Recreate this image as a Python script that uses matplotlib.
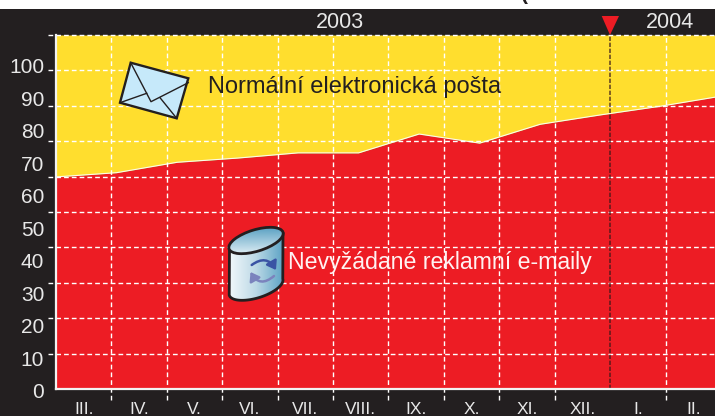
import numpy as np
import matplotlib
matplotlib.use('Agg')
import matplotlib.pyplot as plt
from matplotlib.patches import Polygon, Ellipse, PathPatch, FancyArrowPatch
from matplotlib.path import Path
from matplotlib.transforms import ScaledTranslation

plt.rcParams['font.family'] = 'Liberation Sans'

months = ['III.', 'IV.', 'V.', 'VI.', 'VII.', 'VIII.', 'IX.', 'X.', 'XI.', 'XII.', 'I.', 'II.']
spam = [65.3, 66.6, 69.8, 71.1, 72.7, 72.7, 78.5, 75.7, 81.5, 84.4, 87.1, 90.2]
y_labels = [0, 10, 20, 30, 40, 50, 60, 70, 80, 90, 100]

BLACK = '#231f20'
RED = '#ed1c24'
YELLOW = '#ffde2e'
LIGHT = '#e8e8e8'
DASH = (0, (3.4, 2.2))

W, H = 715, 416
fig = plt.figure(figsize=(W / 100, H / 100), dpi=100, facecolor='white')

# dark panel under everything, white strip stays on top
bg = fig.add_axes([0, 0, 1, 1 - 9 / H])
bg.set_facecolor(BLACK)
bg.set_xticks([])
bg.set_yticks([])
for s in bg.spines.values():
    s.set_visible(False)

ax = fig.add_axes([56 / W, (H - 389) / H, (W - 56) / W, (389 - 35) / H])
ax.patch.set_alpha(0)
x = np.arange(len(spam))
top = 109
ax.set_xlim(0, 10.89)
ax.set_ylim(0, top)
ax.fill_between(x, 0, spam, color=RED, lw=0, zorder=1)
ax.fill_between(x, spam, top, color=YELLOW, lw=0, zorder=1)
ax.plot(x, spam, color='white', lw=0.8, alpha=0.9, zorder=2)

# the grid does not sit on the printed scale, it has its own spacing
grid_x = np.arange(1, 12) * 55.4 / 60.5
grid_y = np.arange(1, 11) * 10.9
for g in grid_y:
    ax.plot([-8 / 60.5, 10.89], [g, g], color='white', lw=1, ls=DASH, clip_on=False, zorder=3)
for i, g in enumerate(grid_x):
    if i == 9:
        continue
    ax.plot([g, g], [-11.5 / 3.248, top], color='white', lw=1, ls=DASH, clip_on=False, zorder=3)
ax.plot([grid_x[9]] * 2, [0, top], color='#3a1a1a', lw=1.2, ls=(0, (2.6, 1.0)), alpha=0.75, zorder=4)

ax.set_yticks(y_labels)
ax.set_yticklabels(y_labels, color=LIGHT, fontsize=15)
ax.tick_params(axis='y', length=0, pad=8.5)
offset = ScaledTranslation(0, -1.2 / 72, fig.dpi_scale_trans)
for lab in ax.get_yticklabels():
    lab.set_transform(lab.get_transform() + offset)

ax.set_xticks(grid_x[0] * (np.arange(len(months)) + 0.5))
ax.set_xticklabels(months, color=LIGHT, fontsize=12.5)
ax.tick_params(axis='x', length=0, pad=9)

for s in ['top', 'right']:
    ax.spines[s].set_visible(False)
for s in ['left', 'bottom']:
    ax.spines[s].set_color('#f2f2f2')
    ax.spines[s].set_linewidth(1.6)
    ax.spines[s].set_zorder(5)

# overlay in pixel coordinates for icons and captions
ov = fig.add_axes([0, 0, 1, 1])
ov.set_xlim(0, W)
ov.set_ylim(H, 0)
ov.axis('off')
ov.patch.set_alpha(0)

ov.text(340, 22.5, '2003', color=LIGHT, fontsize=15.5, ha='center', va='center')
ov.text(670, 23, '2004', color=LIGHT, fontsize=15.5, ha='center', va='center')
ov.add_patch(Polygon([(601.7, 16), (619, 16), (610, 35)], color=RED, lw=0, zorder=6))
ov.text(525, -6, '(', color=BLACK, fontsize=15, fontweight='bold', ha='center', va='center')

ov.text(208, 87.5, 'Normální elektronická pošta', color=BLACK, fontsize=17, va='center')
ov.text(288, 262.5, 'Nevyžádané reklamní e-maily', color='#fff2f2', fontsize=16.7, va='center')

# envelope
ov.add_patch(Polygon([(130.7, 62.7), (188.3, 78.3), (176.7, 118.3), (120, 102.7)],
                     fc='#c6e9fa', ec=BLACK, lw=1.7, joinstyle='miter'))
ov.plot([130.7, 151, 188.3], [62.7, 101.7, 82.7], color=BLACK, lw=1)
ov.plot([120, 146.7], [102.7, 93.3], color=BLACK, lw=1)
ov.plot([160, 176.7], [97.7, 118.3], color=BLACK, lw=1)

# cylinder
cx, cy = 256, 240.5
ang = np.deg2rad(-17)
t = np.linspace(0, np.pi, 40)
ex = 28 * np.cos(t)
ey = 11 * np.sin(t)
low_x = 256 + ex * np.cos(ang) - ey * np.sin(ang)
low_y = 287 + ex * np.sin(ang) + ey * np.cos(ang)
body = np.vstack([[229.5, 247], [283, 234], np.column_stack([low_x, low_y])])
body_patch = PathPatch(Path(np.vstack([body, body[0]])), fc='none', ec=BLACK, lw=2, zorder=7)
ov.add_patch(body_patch)
grad = np.linspace(0, 1, 100).reshape(1, -1)
cm_body = matplotlib.colors.LinearSegmentedColormap.from_list('b', ['#f2f8fb', '#bcd9e6', '#5fa4c6'])
im = ov.imshow(grad, extent=(229, 283, 300, 228), cmap=cm_body, aspect='auto', zorder=6)
im.set_clip_path(PathPatch(Path(np.vstack([body, body[0]])), transform=ov.transData))

lid = Ellipse((cx, cy), 56.5, 21.5, angle=-17, fc='none', ec=BLACK, lw=2, zorder=8)
cm_lid = matplotlib.colors.LinearSegmentedColormap.from_list('l', ['#5ea3c4', '#d8eaf2'])
im2 = ov.imshow(np.linspace(0, 1, 100).reshape(-1, 1), extent=(228, 285, 253, 228), cmap=cm_lid, aspect='auto', zorder=7)
im2.set_clip_path(Ellipse((cx, cy), 56.5, 21.5, angle=-17, transform=ov.transData))
ov.add_patch(lid)
ov.set_xlim(0, W)
ov.set_ylim(H, 0)

ov.add_patch(FancyArrowPatch((251.7, 265), (276, 270), connectionstyle='arc3,rad=-0.55', arrowstyle='-|>,head_length=5,head_width=3.5',
                             color='#3a53a4', lw=1.8, zorder=9, shrinkA=0, shrinkB=0))
ov.add_patch(FancyArrowPatch((274, 276), (250.5, 272), connectionstyle='arc3,rad=-0.6', arrowstyle='-|>,head_length=5,head_width=3.5',
                             color='#7b83bd', lw=1.8, zorder=9, shrinkA=0, shrinkB=0))

plt.savefig('out.png', dpi=100, facecolor='white')
